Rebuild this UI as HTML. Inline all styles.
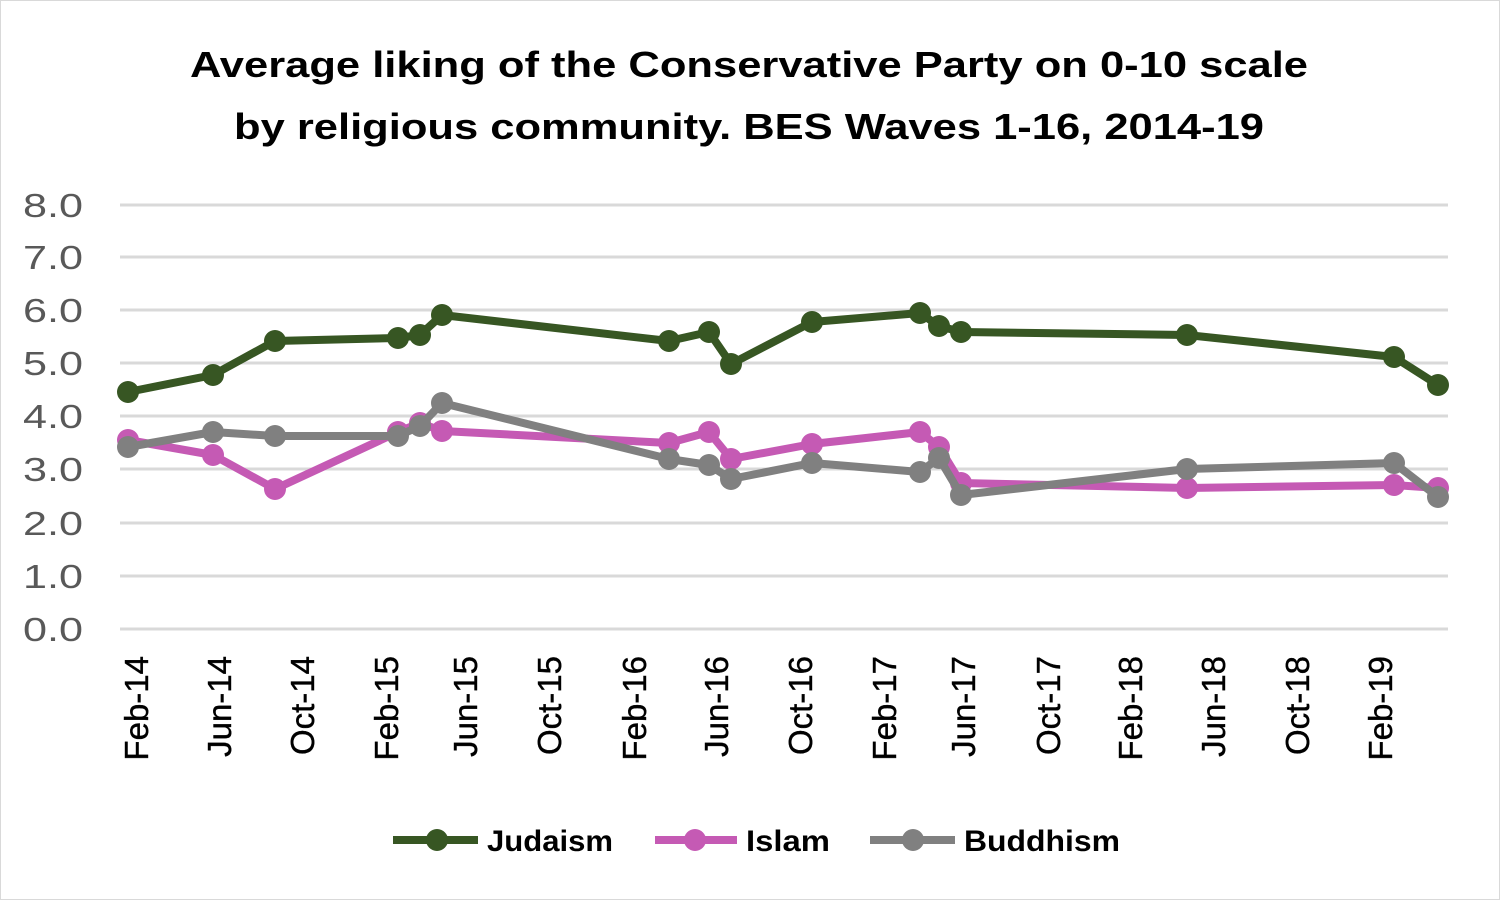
<!DOCTYPE html>
<html><head><meta charset="utf-8"><style>
html,body{margin:0;padding:0;background:#fff}
svg{display:block}
</style></head><body>
<svg width="1500" height="900" viewBox="0 0 1500 900" xmlns="http://www.w3.org/2000/svg" font-family="'Liberation Sans', sans-serif">
<rect x="0.5" y="0.5" width="1499" height="899" fill="#fff" stroke="#d9d9d9"/>
<text x="749" y="77" text-anchor="middle" font-size="36" font-weight="bold" fill="#000" textLength="1118" lengthAdjust="spacingAndGlyphs">Average liking of the Conservative Party on 0-10 scale</text>
<text x="749" y="139" text-anchor="middle" font-size="36" font-weight="bold" fill="#000" textLength="1030" lengthAdjust="spacingAndGlyphs">by religious community. BES Waves 1-16, 2014-19</text>
<g stroke="#d9d9d9" stroke-width="3">
<line x1="120" x2="1448" y1="629" y2="629"/><line x1="120" x2="1448" y1="576" y2="576"/><line x1="120" x2="1448" y1="523" y2="523"/><line x1="120" x2="1448" y1="469" y2="469"/><line x1="120" x2="1448" y1="416" y2="416"/><line x1="120" x2="1448" y1="363" y2="363"/><line x1="120" x2="1448" y1="310" y2="310"/><line x1="120" x2="1448" y1="257" y2="257"/><line x1="120" x2="1448" y1="205" y2="205"/>
</g>
<g font-size="33" fill="#595959" text-anchor="end">
<text x="83" y="641" textLength="60" lengthAdjust="spacingAndGlyphs">0.0</text><text x="83" y="588" textLength="60" lengthAdjust="spacingAndGlyphs">1.0</text><text x="83" y="535" textLength="60" lengthAdjust="spacingAndGlyphs">2.0</text><text x="83" y="481" textLength="60" lengthAdjust="spacingAndGlyphs">3.0</text><text x="83" y="428" textLength="60" lengthAdjust="spacingAndGlyphs">4.0</text><text x="83" y="375" textLength="60" lengthAdjust="spacingAndGlyphs">5.0</text><text x="83" y="322" textLength="60" lengthAdjust="spacingAndGlyphs">6.0</text><text x="83" y="269" textLength="60" lengthAdjust="spacingAndGlyphs">7.0</text><text x="83" y="217" textLength="60" lengthAdjust="spacingAndGlyphs">8.0</text>
</g>
<g font-size="33" fill="#000" text-anchor="end" stroke="#000" stroke-width="0.4">
<text transform="translate(148,656) rotate(-90)">Feb-14</text>
<text transform="translate(231,656) rotate(-90)">Jun-14</text>
<text transform="translate(314,656) rotate(-90)">Oct-14</text>
<text transform="translate(398,656) rotate(-90)">Feb-15</text>
<text transform="translate(477,656) rotate(-90)">Jun-15</text>
<text transform="translate(561,656) rotate(-90)">Oct-15</text>
<text transform="translate(646,656) rotate(-90)">Feb-16</text>
<text transform="translate(728,656) rotate(-90)">Jun-16</text>
<text transform="translate(812,656) rotate(-90)">Oct-16</text>
<text transform="translate(896,656) rotate(-90)">Feb-17</text>
<text transform="translate(975,656) rotate(-90)">Jun-17</text>
<text transform="translate(1060,656) rotate(-90)">Oct-17</text>
<text transform="translate(1142,656) rotate(-90)">Feb-18</text>
<text transform="translate(1225,656) rotate(-90)">Jun-18</text>
<text transform="translate(1309,656) rotate(-90)">Oct-18</text>
<text transform="translate(1392,656) rotate(-90)">Feb-19</text>
</g>
<polyline fill="none" stroke="#375623" stroke-width="8" stroke-linejoin="round" points="128,392 213,375 275,341 398,338 420,335 442,315 669,341 709,332 731,364 812,322 920,313 939,326 961,332 1187,335 1394,357 1438,385"/>
<g fill="#375623">
<circle cx="128" cy="392" r="11"/><circle cx="213" cy="375" r="11"/><circle cx="275" cy="341" r="11"/><circle cx="398" cy="338" r="11"/><circle cx="420" cy="335" r="11"/><circle cx="442" cy="315" r="11"/><circle cx="669" cy="341" r="11"/><circle cx="709" cy="332" r="11"/><circle cx="731" cy="364" r="11"/><circle cx="812" cy="322" r="11"/><circle cx="920" cy="313" r="11"/><circle cx="939" cy="326" r="11"/><circle cx="961" cy="332" r="11"/><circle cx="1187" cy="335" r="11"/><circle cx="1394" cy="357" r="11"/><circle cx="1438" cy="385" r="11"/>
</g>
<polyline fill="none" stroke="#c55ab4" stroke-width="8" stroke-linejoin="round" points="128,440 213,455 275,489 398,432 420,423 442,431 669,443 709,432 731,459 812,444 920,432 939,447 961,483 1187,488 1394,485 1438,488"/>
<g fill="#c55ab4">
<circle cx="128" cy="440" r="11"/><circle cx="213" cy="455" r="11"/><circle cx="275" cy="489" r="11"/><circle cx="398" cy="432" r="11"/><circle cx="420" cy="423" r="11"/><circle cx="442" cy="431" r="11"/><circle cx="669" cy="443" r="11"/><circle cx="709" cy="432" r="11"/><circle cx="731" cy="459" r="11"/><circle cx="812" cy="444" r="11"/><circle cx="920" cy="432" r="11"/><circle cx="939" cy="447" r="11"/><circle cx="961" cy="483" r="11"/><circle cx="1187" cy="488" r="11"/><circle cx="1394" cy="485" r="11"/><circle cx="1438" cy="488" r="11"/>
</g>
<polyline fill="none" stroke="#808080" stroke-width="8" stroke-linejoin="round" points="128,447 213,432 275,436 398,436 420,426 442,403 669,459 709,465 731,479 812,463 920,472 939,458 961,495 1187,469 1394,463 1438,497"/>
<g fill="#808080">
<circle cx="128" cy="447" r="11"/><circle cx="213" cy="432" r="11"/><circle cx="275" cy="436" r="11"/><circle cx="398" cy="436" r="11"/><circle cx="420" cy="426" r="11"/><circle cx="442" cy="403" r="11"/><circle cx="669" cy="459" r="11"/><circle cx="709" cy="465" r="11"/><circle cx="731" cy="479" r="11"/><circle cx="812" cy="463" r="11"/><circle cx="920" cy="472" r="11"/><circle cx="939" cy="458" r="11"/><circle cx="961" cy="495" r="11"/><circle cx="1187" cy="469" r="11"/><circle cx="1394" cy="463" r="11"/><circle cx="1438" cy="497" r="11"/>
</g>
<g font-size="30" font-weight="bold" fill="#000">
<line x1="393" x2="478" y1="840" y2="840" stroke="#375623" stroke-width="8"/><circle cx="437" cy="840" r="11" fill="#375623"/>
<text x="487" y="851" textLength="126" lengthAdjust="spacingAndGlyphs">Judaism</text>
<line x1="655" x2="737" y1="840" y2="840" stroke="#c55ab4" stroke-width="8"/><circle cx="695" cy="840" r="11" fill="#c55ab4"/>
<text x="746" y="851" textLength="84" lengthAdjust="spacingAndGlyphs">Islam</text>
<line x1="870" x2="955" y1="840" y2="840" stroke="#808080" stroke-width="8"/><circle cx="913" cy="840" r="11" fill="#808080"/>
<text x="964" y="851" textLength="156" lengthAdjust="spacingAndGlyphs">Buddhism</text>
</g>
</svg>
</body></html>
